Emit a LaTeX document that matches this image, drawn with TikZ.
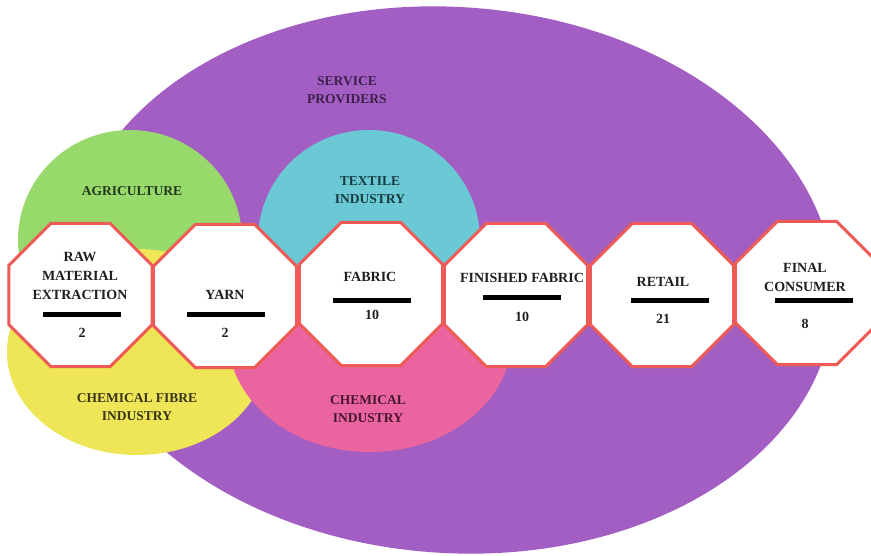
\documentclass[tikz,border=0pt]{standalone}
\usepackage{fontspec}
\setmainfont{Liberation Serif}
\usetikzlibrary{shapes.geometric}
\definecolor{cPurple}{HTML}{A35EC3}
\definecolor{cGreen}{HTML}{98D96C}
\definecolor{cYellow}{HTML}{EEE657}
\definecolor{cCyan}{HTML}{6BC9D6}
\definecolor{cPink}{HTML}{EA659F}
\definecolor{cRed}{HTML}{EE5A55}
\definecolor{tPurple}{HTML}{3C1F4A}
\definecolor{tGreen}{HTML}{22381A}
\definecolor{tCyan}{HTML}{163A3E}
\definecolor{tPink}{HTML}{4A1731}
\definecolor{tYellow}{HTML}{38351A}
\begin{document}
\begin{tikzpicture}[x=1pt,y=-1pt,
  blob/.style={ellipse, inner sep=0pt, draw=none},
  octa/.style={regular polygon, regular polygon sides=8, minimum size=155pt,
    inner sep=0pt, draw=cRed, line width=3pt, fill=white},
  lbl/.style={font=\bfseries\fontsize{14}{19}\selectfont, align=center,
    inner sep=0pt, text=black!88},
  area/.style={font=\bfseries\fontsize{13.5}{18}\selectfont, align=center,
    inner sep=0pt},
  bar/.style={fill=black, minimum width=78pt, minimum height=5pt, inner sep=0pt}]
\fill[white] (0,0) rectangle (871,555);
\useasboundingbox (0,0) rectangle (871,555);
% areas
\node[blob, fill=cPurple, minimum width=766pt, minimum height=546pt, rotate=-4] (svc) at (452,280) {};
\node[blob, fill=cGreen, minimum width=224pt, minimum height=220pt] (agr) at (130,240) {};
\node[blob, fill=cYellow, minimum width=260pt, minimum height=206pt] (cfi) at (137,352) {};
\node[blob, fill=cPink, minimum width=284pt, minimum height=230pt] (chi) at (370,337) {};
\node[blob, fill=cCyan, minimum width=222pt, minimum height=220pt] (tex) at (369,240) {};
% area labels
\node[area, text=tPurple] (svcL) at (347,90) {SERVICE\\PROVIDERS};
\node[area, text=tGreen] (agrL) at (132,191) {AGRICULTURE};
\node[area, text=tCyan] (texL) at (370,190) {TEXTILE\\INDUSTRY};
\node[area, text=tPink] (chiL) at (368,409) {CHEMICAL\\INDUSTRY};
\node[area, text=tYellow] (cfiL) at (137,407) {CHEMICAL FIBRE\\INDUSTRY};
% octagons
\node[octa] (o1) at (80.5,295) {};
\node[octa] (o2) at (225,296) {};
\node[octa] (o3) at (371,294) {};
\node[octa] (o4) at (516,295) {};
\node[octa] (o5) at (662,295) {};
\node[octa] (o6) at (807,293) {};
% octagon contents
\node[lbl] (t1) at (80,276) {RAW\\MATERIAL\\EXTRACTION};
\node[bar] (b1) at (82,314) {};
\node[lbl] (n1) at (82,333) {2};
\node[lbl] (t2) at (225,295) {YARN};
\node[bar] (b2) at (225.5,314) {};
\node[lbl] (n2) at (225,333) {2};
\node[lbl] (t3) at (370,277) {FABRIC};
\node[bar] (b3) at (372,300) {};
\node[lbl] (n3) at (372,315) {10};
\node[lbl] (t4) at (522,278) {FINISHED FABRIC};
\node[bar] (b4) at (522,297) {};
\node[lbl] (n4) at (522,317) {10};
\node[lbl] (t5) at (663,282) {RETAIL};
\node[bar] (b5) at (670,300) {};
\node[lbl] (n5) at (663,319) {21};
\node[lbl] (t6) at (805,277) {FINAL\\CONSUMER};
\node[bar] (b6) at (814,300) {};
\node[lbl] (n6) at (805,324) {8};
\end{tikzpicture}
\end{document}
